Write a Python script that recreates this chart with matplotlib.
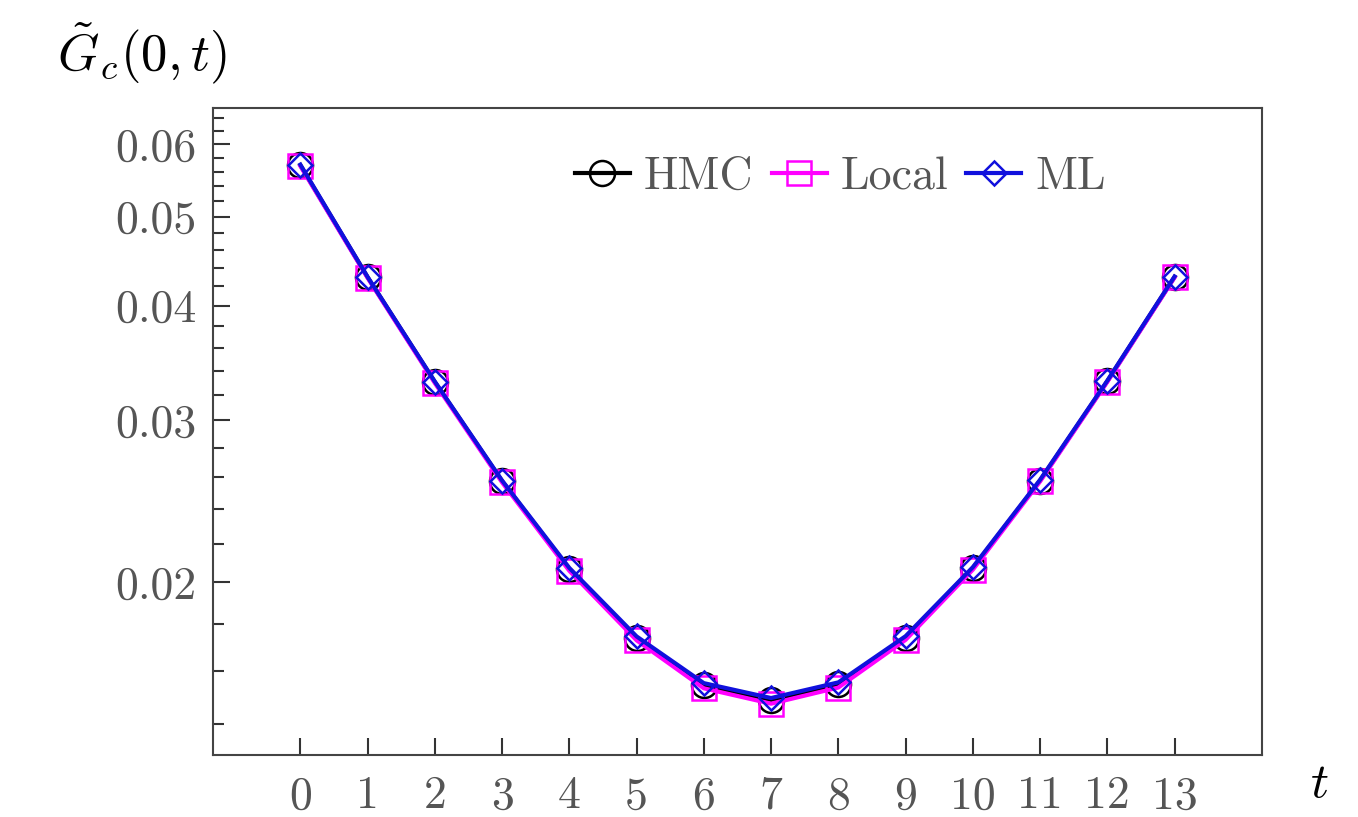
import numpy as np
import matplotlib.pyplot as plt
from matplotlib.ticker import FixedLocator, NullFormatter

plt.rcParams.update({
    'font.family': 'serif',
    'font.serif': ['cmr10'],
    'mathtext.fontset': 'cm',
    'axes.formatter.use_mathtext': True,
    'font.size': 33,
})

t = np.arange(14)
hmc = [0.0569, 0.04297, 0.03303, 0.02576, 0.02066, 0.01738, 0.01545, 0.01488,
       0.01548, 0.01740, 0.02071, 0.0258, 0.0331, 0.0430]
local = [0.0568, 0.04290, 0.03295, 0.02568, 0.02057, 0.01728, 0.01532, 0.01474,
         0.01535, 0.01730, 0.02063, 0.02574, 0.03305, 0.04295]
ml = [0.0570, 0.04300, 0.03307, 0.02580, 0.02072, 0.01745, 0.01552, 0.01495,
      0.01555, 0.01746, 0.02076, 0.02585, 0.03315, 0.04305]

yticks = [0.02, 0.03, 0.04, 0.05, 0.06]
ytick_labels = ['0.02', '0.03', '0.04', '0.05', '0.06']
yminor = [0.014, 0.016, 0.018, 0.022, 0.024, 0.026, 0.028, 0.032, 0.034, 0.036,
          0.038, 0.042, 0.044, 0.046, 0.048, 0.052, 0.054, 0.056, 0.058, 0.062, 0.064]

fig = plt.figure(figsize=(13.58, 8.17), dpi=100)
ax = fig.add_axes([0.1568, 0.0759, 0.7725, 0.7919])

ax.plot(t, hmc, color='black', lw=3, marker='o', ms=18, mfc='none', mew=1.8, label='HMC')
ax.plot(t, local, color='magenta', lw=3, marker='s', ms=17, mfc='none', mew=1.8, label='Local')
ax.plot(t, ml, color='#1010dd', lw=3, marker='D', ms=12, mfc='none', mew=1.8, label='ML')

ax.set_yscale('log')
ax.set_ylim(0.01296, 0.0657)
ax.set_xlim(-1.3, 14.3)

ax.set_xticks(t)
ax.set_xticklabels([str(i) for i in t])
ax.yaxis.set_major_locator(FixedLocator(yticks))
ax.set_yticklabels(ytick_labels)
ax.yaxis.set_minor_locator(FixedLocator(yminor))
ax.yaxis.set_minor_formatter(NullFormatter())
ax.xaxis.set_minor_locator(FixedLocator([]))

ax.tick_params(which='both', direction='in', top=False, right=False, colors='#333333',
               labelcolor='#555555', width=1.5)
ax.tick_params(which='major', length=12)
ax.tick_params(axis='x', which='major', pad=15)
ax.tick_params(axis='y', which='major', pad=12)
ax.tick_params(which='minor', length=8)
for s in ax.spines.values():
    s.set_color('#444444')
    s.set_linewidth(1.5)

# axis labels placed like the original: y label above the axis, t at the far right
ax.text(-0.067, 1.085, r'$\tilde{G}_c(0,t)$', transform=ax.transAxes,
        ha='center', va='center', fontsize=38)
ax.text(1.055, -0.045, r'$t$', transform=ax.transAxes,
        ha='center', va='center', fontsize=36)

leg = ax.legend(loc='center', bbox_to_anchor=(0.598, 0.893), ncol=3, frameon=False,
                handlelength=1.2, handletextpad=0.3, columnspacing=0.4, fontsize=33)
for txt in leg.get_texts():
    txt.set_color('#555555')

fig.savefig('out.png', dpi=100)
